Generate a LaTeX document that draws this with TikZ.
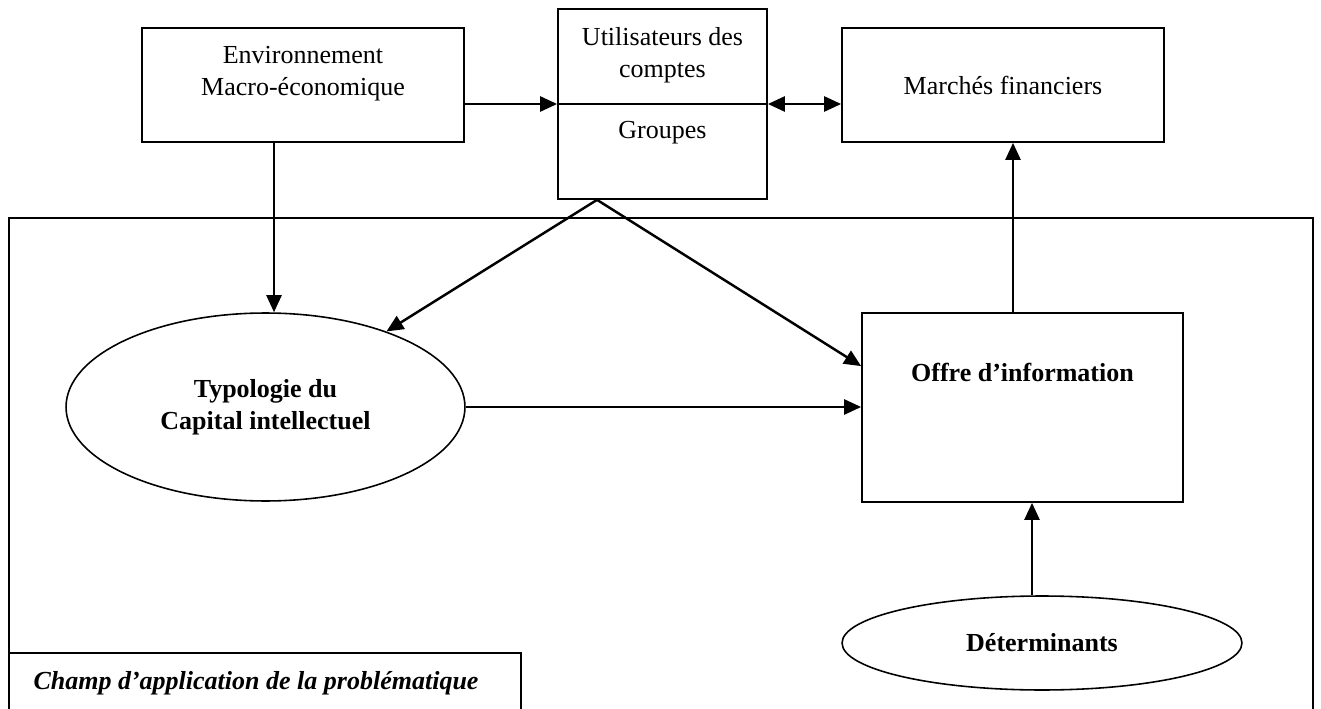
\documentclass[tikz,border=0pt]{standalone}
\usepackage{fontspec}
\setmainfont{Liberation Serif}
\usetikzlibrary{arrows.meta,shapes.geometric}
\tikzset{arrow/.style={-{Triangle[length=0.34cm,width=0.3cm]}, line width=1.4pt}}
\tikzset{boite/.style={draw, line width=1pt, inner sep=0pt}}
\tikzset{bulle/.style={draw, ellipse, line width=0.9pt, inner sep=0pt}}

\begin{document}
\begin{tikzpicture}[x=0.02cm, y=-0.02cm, font=\fontsize{14.8}{18.2}\selectfont]
    \useasboundingbox (0,0) rectangle (1321,709);
    % cadre et etiquette
    \draw[line width=1pt] (9,218) rectangle (1313,725);
    \draw[line width=1pt] (9,653) rectangle (521,725);
    \node[font=\fontsize{14.8}{18.2}\selectfont\bfseries\itshape] (champ) at (256,683) {Champ d'application de la problématique};
    % boites du haut
    \node[boite, minimum width=6.44cm, minimum height=2.28cm] (env) at (303,85) {};
    \node[align=center] (envtxt) at (303,74) {Environnement\\Macro-économique};
    \node[boite, minimum width=4.18cm, minimum height=3.8cm] (util) at (662.5,104) {};
    \node[align=center] (utiltxt) at (662.5,55) {Utilisateurs des\\comptes};
    \node (grp) at (662.5,133) {Groupes};
    \draw[line width=1pt] (util.west) -- (util.east);
    \node[boite, minimum width=6.44cm, minimum height=2.28cm] (march) at (1003,85) {Marchés financiers};
    % interieur
    \node[bulle, minimum width=7.98cm, minimum height=3.76cm, align=center, font=\fontsize{14.8}{18.2}\selectfont\bfseries] (typ) at (265.5,407) {Typologie du\\Capital intellectuel};
    \node[boite, minimum width=6.42cm, minimum height=3.78cm] (offre) at (1022.5,407.5) {};
    \node[font=\fontsize{14.8}{18.2}\selectfont\bfseries] (offretxt) at (1022.5,372) {Offre d'information};
    \node[bulle, minimum width=8cm, minimum height=1.88cm, font=\fontsize{14.8}{18.2}\selectfont\bfseries] (det) at (1042,643) {Déterminants};
    % fleches
    \coordinate (envout) at ([xshift=-0.58cm]env.south);
    \coordinate (utilout) at ([xshift=-1.31cm]util.south);
    \coordinate (offreout) at ([xshift=-0.19cm]offre.north);
    \coordinate (detout) at ([xshift=-0.2cm]det.north);
    \draw[arrow] (env.east |- util.west) -- (util.west);
    \draw[arrow, {Triangle[length=0.34cm,width=0.3cm]}-{Triangle[length=0.34cm,width=0.3cm]}] (util.east) -- (util.east -| march.west);
    \draw[arrow] (envout) -- (envout |- typ.north);
    \draw[arrow] (utilout) -- (typ);
    \draw[arrow] (utilout) -- ([yshift=-1.08cm]offre.north west);
    \draw[arrow] (typ.east) -- (typ.east -| offre.west);
    \draw[arrow] (offreout) -- (offreout |- march.south);
    \draw[arrow] (detout) -- (detout |- offre.south);
\end{tikzpicture}
\end{document}
